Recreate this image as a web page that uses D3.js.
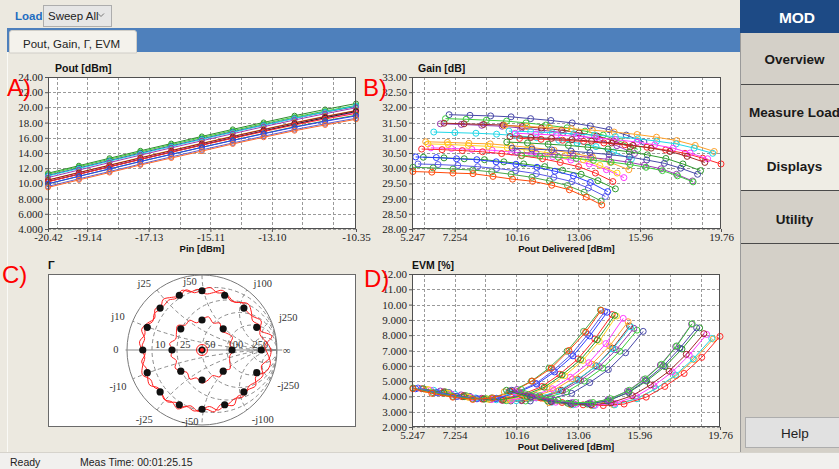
<!DOCTYPE html>
<html><head><meta charset="utf-8">
<script src="https://cdn.jsdelivr.net/npm/d3@7"></script>
<style>html,body{margin:0;padding:0;background:#ECE9E0;}svg{display:block;}</style>
</head><body>
<svg id="c" width="839" height="469"></svg>
<script>
// ================= DATA =================
// Panel A: Pout vs Pin
const pinDbm = [-20.42,-19.41,-18.41,-17.40,-16.39,-15.39,-14.38,-13.37,-12.36,-11.36,-10.35];
const pinTickLabels = [-20.42,-19.14,-17.13,-15.11,-13.10,-10.35];
const pinGrid = [-20.14,-19.14,-18.13,-17.13,-16.12,-15.11,-14.11,-13.10,-12.10,-11.09];
const poutTicks = [4,6,8,10,12,14,16,18,20,22,24];
const poutColors = ["#2e8a2e","#3ccc3c","#303080","#20d8e8","#9a3cb4","#ffa22a","#8b1a1a","#ff3cff","#202020","#ff2a2a","#2e9a2e","#2a3cff","#6060d0","#ff6a2a"];
const poutDbm = [
 [11.34,12.33,13.31,14.29,15.24,16.18,17.11,18.02,18.91,19.73,20.51],
 [11.21,12.20,13.17,14.15,15.10,16.03,16.95,17.85,18.73,19.52,20.27],
 [11.04,12.03,13.00,13.98,14.93,15.86,16.79,17.69,18.57,19.38,20.13],
 [10.98,11.96,12.93,13.90,14.86,15.80,16.73,17.65,18.55,19.39,20.20],
 [10.77,11.76,12.74,13.72,14.68,15.61,16.54,17.46,18.35,19.17,19.95],
 [10.45,11.44,12.41,13.40,14.35,15.29,16.21,17.12,18.01,18.83,19.60],
 [10.44,11.42,12.38,13.35,14.30,15.24,16.16,17.07,17.96,18.78,19.57],
 [10.25,11.24,12.21,13.19,14.14,15.07,16.00,16.90,17.78,18.59,19.34],
 [10.24,11.22,12.19,13.16,14.12,15.06,15.99,16.90,17.80,18.64,19.45],
 [10.21,11.20,12.17,13.14,14.09,15.02,15.93,16.82,17.69,18.48,19.21],
 [9.94,10.93,11.90,12.88,13.82,14.75,15.67,16.56,17.44,18.23,18.97],
 [9.95,10.94,11.90,12.88,13.82,14.74,15.65,16.53,17.39,18.17,18.88],
 [9.61,10.60,11.56,12.54,13.49,14.41,15.32,16.21,17.07,17.85,18.57],
 [9.47,10.46,11.43,12.42,13.34,14.25,15.19,16.07,16.93,17.69,18.44]
];
// Panels B & D: per load state
const poutDelTickLabels = [5.247,7.254,10.16,13.06,15.96,19.76];
const poutDelGrid = [5.803,7.254,8.705,10.16,11.61,13.06,14.51,15.96,17.41,18.86];
const gainTicks = [28,28.5,29,29.5,30,30.5,31,31.5,32,32.5,33];
const evmTicks = [2,3,4,5,6,7,8,9,10,11,12];
const loadColors = ["#4848a8","#3ccc3c","#9a3cb4","#a02828","#20d8e8","#ffa22a","#ff3cff","#ffd21e","#ff2a2a","#2e9a2e","#2a3cff","#5a5ae6","#48a848","#ff4a0a",
                    "#ffa22a","#20d8e8","#ff2a2a","#ff3cff","#a02828","#2e9a2e","#4848a8","#9a3cb4","#3ccc3c"];
const poutDelivered = [
 [6.99,7.97,8.94,9.90,10.82,11.77,12.77,13.62,14.50,15.31,16.14],
 [6.82,7.79,8.74,9.69,10.60,11.53,12.53,13.37,14.23,15.03,15.85],
 [6.58,7.56,8.52,9.48,10.40,11.34,12.34,13.19,14.07,14.87,15.70],
 [6.75,7.69,8.61,9.53,10.42,11.32,12.28,13.09,13.93,14.70,15.50],
 [6.27,7.26,8.25,9.22,10.16,11.11,12.14,13.00,13.89,14.71,15.55],
 [5.89,6.91,7.92,8.92,9.89,10.87,11.92,12.81,13.72,14.56,15.43],
 [6.13,7.10,8.06,9.01,9.93,10.87,11.86,12.71,13.58,14.38,15.20],
 [6.00,6.95,7.89,8.82,9.72,10.64,11.61,12.44,13.29,14.07,14.88],
 [5.70,6.66,7.61,8.56,9.46,10.39,11.38,12.21,13.07,13.86,14.68],
 [5.78,6.75,7.70,8.65,9.56,10.49,11.48,12.32,13.19,13.98,14.80],
 [5.42,6.39,7.34,8.29,9.20,10.13,11.12,11.96,12.83,13.62,14.44],
 [5.53,6.47,7.40,8.33,9.22,10.12,11.09,11.91,12.76,13.53,14.33],
 [5.29,6.24,7.17,8.10,8.99,9.90,10.88,11.70,12.55,13.33,14.13],
 [5.29,6.18,7.17,8.11,9.05,9.97,10.91,11.81,12.64,13.43,14.16],
 [9.60,10.65,11.70,12.73,13.72,14.74,15.82,16.73,17.68,18.55,19.44],
 [9.80,10.82,11.84,12.84,13.81,14.80,15.85,16.74,17.66,18.50,19.37],
 [10.30,11.31,12.32,13.31,14.26,15.24,16.28,17.16,18.07,18.90,19.76],
 [10.10,11.07,12.02,12.97,13.88,14.81,15.81,16.65,17.51,18.31,19.13],
 [9.85,10.83,11.80,12.76,13.68,14.63,15.63,16.48,17.36,18.17,19.00],
 [9.70,10.67,11.64,12.59,13.51,14.45,15.45,16.30,17.17,17.97,18.80],
 [9.95,10.88,11.81,12.72,13.60,14.50,15.46,16.27,17.10,17.87,18.66],
 [10.20,11.08,11.95,12.81,13.64,14.49,15.40,16.16,16.95,17.67,18.42],
 [10.40,11.26,12.12,12.96,13.77,14.60,15.49,16.24,17.01,17.72,18.45]
];
const gainDb = [
 [31.76,31.74,31.72,31.69,31.63,31.57,31.49,31.39,31.27,31.09,30.86],
 [31.63,31.61,31.58,31.55,31.49,31.42,31.33,31.22,31.09,30.88,30.62],
 [31.46,31.44,31.41,31.38,31.32,31.25,31.17,31.06,30.93,30.74,30.48],
 [31.48,31.46,31.44,31.42,31.37,31.32,31.25,31.16,31.06,30.90,30.70],
 [31.19,31.17,31.15,31.12,31.07,31.00,30.92,30.83,30.71,30.53,30.30],
 [30.87,30.85,30.82,30.80,30.74,30.68,30.59,30.49,30.37,30.19,29.95],
 [30.67,30.65,30.62,30.59,30.53,30.46,30.38,30.27,30.14,29.95,29.69],
 [30.80,30.78,30.75,30.72,30.67,30.60,30.51,30.41,30.28,30.09,29.84],
 [30.63,30.61,30.58,30.54,30.48,30.41,30.31,30.19,30.05,29.84,29.56],
 [30.36,30.34,30.31,30.28,30.21,30.14,30.05,29.93,29.80,29.59,29.32],
 [30.37,30.35,30.31,30.28,30.21,30.13,30.03,29.90,29.75,29.53,29.23],
 [30.14,30.12,30.09,30.05,29.99,29.92,29.82,29.70,29.56,29.35,29.07],
 [30.03,30.01,29.97,29.94,29.88,29.80,29.70,29.58,29.43,29.21,28.92],
 [29.89,29.87,29.84,29.82,29.73,29.64,29.57,29.44,29.29,29.05,28.79],
 [31.40,31.37,31.34,31.30,31.25,31.19,31.11,31.02,30.91,30.75,30.55],
 [31.22,31.20,31.17,31.13,31.09,31.04,30.97,30.89,30.80,30.66,30.49],
 [30.98,30.95,30.92,30.88,30.83,30.77,30.69,30.60,30.49,30.33,30.14],
 [31.15,31.12,31.09,31.05,31.00,30.94,30.86,30.77,30.66,30.50,30.31],
 [31.04,31.01,30.98,30.94,30.89,30.83,30.75,30.66,30.55,30.39,30.19],
 [30.86,30.83,30.79,30.75,30.69,30.63,30.54,30.44,30.32,30.14,29.92],
 [30.66,30.63,30.60,30.56,30.51,30.45,30.37,30.27,30.16,30.00,29.80],
 [30.52,30.49,30.45,30.41,30.35,30.29,30.20,30.10,29.98,29.80,29.58],
 [30.42,30.39,30.36,30.32,30.26,30.20,30.12,30.03,29.92,29.75,29.55]
];
const evmPct = [
 [4.25,4.00,3.80,3.70,3.70,3.85,4.20,4.90,5.75,6.85,8.25],
 [4.30,4.05,3.85,3.72,3.70,3.90,4.30,5.00,5.85,6.95,8.33],
 [4.35,4.10,3.88,3.75,3.72,3.92,4.35,5.05,5.95,7.05,8.45],
 [4.30,4.05,3.85,3.75,3.75,3.95,4.40,5.10,6.00,7.15,8.60],
 [4.40,4.15,3.90,3.78,3.72,3.90,4.35,5.05,5.95,7.10,8.55],
 [4.45,4.20,3.95,3.80,3.75,3.95,4.40,5.15,6.10,7.30,8.88],
 [4.40,4.15,3.92,3.80,3.78,4.00,4.50,5.25,6.20,7.45,9.10],
 [4.45,4.20,3.95,3.82,3.80,4.05,4.60,5.35,6.35,7.60,9.25],
 [4.50,4.22,3.98,3.82,3.82,4.10,4.65,5.45,6.45,7.75,9.35],
 [4.50,4.22,3.98,3.82,3.80,4.05,4.60,5.40,6.40,7.70,9.30],
 [4.50,4.25,4.00,3.85,3.85,4.20,4.80,5.60,6.65,7.95,9.50],
 [4.55,4.25,4.00,3.85,3.88,4.25,4.85,5.70,6.75,8.05,9.55],
 [4.55,4.25,4.00,3.85,3.90,4.30,5.00,5.85,6.95,8.25,9.65],
 [4.50,4.20,3.95,3.80,3.90,4.30,5.00,5.85,7.00,8.20,9.62],
 [4.30,3.90,3.60,3.45,3.40,3.45,3.85,4.50,5.35,6.40,7.75],
 [4.30,3.92,3.62,3.45,3.40,3.45,3.85,4.50,5.40,6.45,7.79],
 [4.25,3.90,3.60,3.45,3.40,3.50,3.95,4.65,5.50,6.55,7.92],
 [4.30,3.92,3.62,3.48,3.42,3.55,4.00,4.70,5.60,6.70,8.05],
 [4.35,3.95,3.65,3.50,3.45,3.58,4.05,4.75,5.65,6.75,8.10],
 [4.40,4.00,3.70,3.55,3.50,3.70,4.25,5.00,5.95,7.10,8.48],
 [4.40,4.00,3.70,3.55,3.52,3.72,4.28,5.05,6.00,7.15,8.48],
 [4.45,4.05,3.75,3.60,3.58,3.80,4.35,5.10,6.05,7.25,8.72],
 [4.45,4.05,3.75,3.60,3.60,3.85,4.40,5.15,6.10,7.30,8.75]
];
// Panel C: Smith chart (Γ)
const smithR = [0.2,0.5,1,2,5];
const smithX = [0.2,0.5,1,2,5];
const rLabels = ["10","25","50","100","250"];
const xLabels = ["j10","j25","j50","j100","j250"];
const loadGammaMag = [0, 0.4,0.4,0.4,0.4,0.4,0.4,0.4,0.4,
  0.79,0.79,0.79,0.79,0.79,0.79,0.79,0.79,0.79,0.79,0.79,0.79,0.79,0.79,0.79,0.79];
const loadGammaAng = [0, 0,45,90,135,180,225,270,315,
  0,22.5,45,67.5,90,112.5,135,157.5,180,202.5,225,247.5,270,292.5,315,337.5];
const traceOuter1 = [[0,0.92],[7.5,0.86],[15,0.80],[22.5,0.84],[30,0.78],[37.5,0.83],[45,0.87],[52.5,0.80],[60,0.76],[67.5,0.82],[75,0.79],[82.5,0.84],
 [90,0.80],[97.5,0.77],[105,0.83],[112.5,0.78],[120,0.81],[127.5,0.85],[135,0.78],[142.5,0.80],[150,0.76],[157.5,0.82],[165,0.79],[172.5,0.84],
 [180,0.80],[187.5,0.77],[195,0.82],[202.5,0.86],[210,0.79],[217.5,0.81],[225,0.77],[232.5,0.83],[240,0.80],[247.5,0.85],[255,0.78],[262.5,0.82],
 [270,0.79],[277.5,0.76],[285,0.83],[292.5,0.80],[300,0.85],[307.5,0.78],[315,0.82],[322.5,0.79],[330,0.84],[337.5,0.88],[345,0.82],[352.5,0.90]];
const traceOuter2 = [[3.75,0.84],[11.25,0.95],[18.75,0.82],[26.25,0.88],[33.75,0.81],[41.25,0.79],[48.75,0.83],[56.25,0.77],[63.75,0.80],[71.25,0.84],[78.75,0.78],[86.25,0.75],
 [93.75,0.81],[101.25,0.79],[108.75,0.84],[116.25,0.77],[123.75,0.80],[131.25,0.78],[138.75,0.83],[146.25,0.76],[153.75,0.81],[161.25,0.85],[168.75,0.78],[176.25,0.80],
 [183.75,0.76],[191.25,0.82],[198.75,0.78],[206.25,0.81],[213.75,0.84],[221.25,0.77],[228.75,0.80],[236.25,0.83],[243.75,0.78],[251.25,0.80],[258.75,0.76],[266.25,0.82],
 [273.75,0.79],[281.25,0.84],[288.75,0.77],[296.25,0.80],[303.75,0.78],[311.25,0.83],[318.75,0.81],[326.25,0.86],[333.75,0.80],[341.25,0.90],[348.75,0.93],[356.25,0.88]];
const traceInner = [[0,0.42],[11.25,0.38],[22.5,0.44],[33.75,0.40],[45,0.36],[56.25,0.43],[67.5,0.39],[78.75,0.45],[90,0.41],[101.25,0.37],[112.5,0.43],[123.75,0.40],
 [135,0.46],[146.25,0.41],[157.5,0.38],[168.75,0.44],[180,0.39],[191.25,0.42],[202.5,0.37],[213.75,0.43],[225,0.40],[236.25,0.36],[247.5,0.42],[258.75,0.38],
 [270,0.44],[281.25,0.41],[292.5,0.37],[303.75,0.43],[315,0.39],[326.25,0.45],[337.5,0.40],[348.75,0.38]];

// ================= LAYOUT / DRAW =================
const svg = d3.select("#c");
const UI = "Liberation Sans, Arial, sans-serif";
const SERIF = "Liberation Serif, Times New Roman, serif";
const fmt = d3.formatLocale({decimal:".",thousands:",",grouping:[3],currency:["",""],minus:"-"}).format(".4r");

svg.append("rect").attr("width",839).attr("height",469).attr("fill","#ECE9E0");
// status bar
svg.append("rect").attr("x",0).attr("y",453).attr("width",839).attr("height",16).attr("fill","#F1F0EE");
svg.append("line").attr("x1",0).attr("x2",839).attr("y1",452.5).attr("y2",452.5).attr("stroke","#D6D3CC");
svg.append("text").attr("x",10).attr("y",466).attr("font-family",UI).attr("font-size",10.5).attr("fill","#222").text("Ready");
svg.append("text").attr("x",80).attr("y",466).attr("font-family",UI).attr("font-size",10.5).attr("fill","#222").text("Meas Time: 00:01:25.15");

// top bar
svg.append("text").attr("x",15).attr("y",20).attr("font-family",UI).attr("font-weight","bold").attr("font-size",11.5).attr("fill","#1E6DC0").text("Load");
svg.append("rect").attr("x",43.5).attr("y",5.5).attr("width",68).attr("height",21).attr("fill","#E6E6E6").attr("stroke","#ADADAD");
svg.append("text").attr("x",48).attr("y",20).attr("font-family",UI).attr("font-size",11.5).attr("fill","#222").text("Sweep All");
svg.append("path").attr("d","M98,13.5 L101,16.5 L104,13.5").attr("fill","none").attr("stroke","#777");
// blue band and tab
svg.append("rect").attr("x",7).attr("y",28).attr("width",733).attr("height",24).attr("fill","#4E80BC");
svg.append("path").attr("d","M9.5,53 L9.5,33 Q9.5,30.5 12,30.5 L134,30.5 Q136.5,30.5 136.5,33 L136.5,53 Z").attr("fill","#F4F2EC").attr("stroke","#D0CEC8");
svg.append("text").attr("x",23).attr("y",48).attr("font-family",UI).attr("font-size",11.5).attr("fill","#222").text("Pout, Gain, Γ, EVM");
svg.append("line").attr("x1",7.5).attr("x2",7.5).attr("y1",52).attr("y2",452).attr("stroke","#FAFAF6");

// sidebar
svg.append("rect").attr("x",740).attr("y",0).attr("width",99).attr("height",452).attr("fill","#D4D0C8");
svg.append("rect").attr("x",740).attr("y",136).attr("width",99).attr("height",54).attr("fill","#EFEDE5");
svg.append("line").attr("x1",740.5).attr("x2",740.5).attr("y1",0).attr("y2",452).attr("stroke","#9A9A9A");
svg.append("rect").attr("x",740).attr("y",0).attr("width",99).attr("height",33).attr("fill","#1D4A85");
svg.append("text").attr("x",797).attr("y",23).attr("text-anchor","middle").attr("font-family",UI).attr("font-weight","bold").attr("font-size",15.5).attr("fill","#fff").text("MOD");
const sideButtons = ["Overview","Measure Load","Displays","Utility"];
const sideSep = [84,136,190,243];
const sideTextY = [64,117,171,224];
sideSep.forEach(y=>svg.append("line").attr("x1",741).attr("x2",839).attr("y1",y+0.5).attr("y2",y+0.5).attr("stroke","#4A4A4A").attr("stroke-width",1.2));
sideButtons.forEach((t,i)=>svg.append("text").attr("x",794.5).attr("y",sideTextY[i]).attr("text-anchor","middle").attr("font-family",UI).attr("font-weight","bold").attr("font-size",13.5).attr("fill","#1a1a1a").text(t));
svg.append("rect").attr("x",745.5).attr("y",417.5).attr("width",96).attr("height",30).attr("fill","#E1E1E1").attr("stroke","#ADADAD");
svg.append("text").attr("x",795).attr("y",438).attr("text-anchor","middle").attr("font-family",UI).attr("font-size",13.5).attr("fill","#222").text("Help");

// -------- XY panels --------
function xyPanel(o){
  const x = d3.scaleLinear().domain(o.xDomain).range([o.left,o.right]);
  const y = d3.scaleLinear().domain(o.yDomain).range([o.bottom,o.top]);
  const g = svg.append("g");
  g.append("rect").attr("x",o.left).attr("y",o.top).attr("width",o.right-o.left).attr("height",o.bottom-o.top).attr("fill","#fff");
  g.append("g").selectAll("line").data(o.xGrid).join("line")
    .attr("x1",d=>Math.round(x(d))+0.5).attr("x2",d=>Math.round(x(d))+0.5).attr("y1",o.top).attr("y2",o.bottom)
    .attr("stroke","#9a9a9a").attr("stroke-dasharray","3,2");
  g.append("g").selectAll("line").data(o.yTicks).join("line")
    .attr("y1",d=>Math.round(y(d))+0.5).attr("y2",d=>Math.round(y(d))+0.5).attr("x1",o.left).attr("x2",o.right)
    .attr("stroke","#9a9a9a").attr("stroke-dasharray","3,2");
  const line = d3.line().x(d=>x(d[0])).y(d=>y(d[1]));
  o.ys.forEach((ys,i)=>{
    const xs = o.xsFor(i);
    const pts = xs.map((v,j)=>[v,ys[j]]);
    g.append("path").attr("d",line(pts)).attr("fill","none").attr("stroke",o.colors[i]).attr("stroke-width",1);
    g.append("g").selectAll("circle").data(pts).join("circle")
      .attr("cx",d=>x(d[0])).attr("cy",d=>y(d[1])).attr("r",o.r)
      .attr("fill","none").attr("stroke",o.colors[i]).attr("stroke-width",1);
  });
  g.append("rect").attr("x",o.left+0.5).attr("y",o.top+0.5).attr("width",o.right-o.left-1).attr("height",o.bottom-o.top-1)
    .attr("fill","none").attr("stroke","#505050");
  const ax = g.append("g").attr("transform",`translate(0,${o.bottom})`)
    .call(d3.axisBottom(x).tickValues(o.xTicks).tickFormat(fmt).tickSize(3).tickSizeOuter(0).tickPadding(1));
  const ay = g.append("g").attr("transform",`translate(${o.left},0)`)
    .call(d3.axisLeft(y).tickValues(o.yTicks).tickFormat(fmt).tickSize(3).tickSizeOuter(0).tickPadding(2));
  [ax,ay].forEach(a=>{
    a.select(".domain").remove();
    a.selectAll("text").attr("font-family",SERIF).attr("font-size",11).attr("fill","#222");
    a.selectAll("line").attr("stroke","#555");
  });
  g.append("text").attr("x",o.titleX).attr("y",o.top-5).attr("font-family",UI).attr("font-weight","bold").attr("font-size",10.5).attr("fill","#111").text(o.title);
  g.append("text").attr("x",(o.left+o.right)/2).attr("y",o.bottom+23).attr("text-anchor","middle").attr("font-family",UI).attr("font-weight","bold").attr("font-size",9.5).attr("fill","#111").text(o.xTitle);
}

xyPanel({left:48,right:356,top:77,bottom:229,xDomain:[-20.42,-10.35],yDomain:[4,24],
  xTicks:pinTickLabels,xGrid:pinGrid,yTicks:poutTicks,ys:poutDbm,xsFor:()=>pinDbm,colors:poutColors,r:2.5,
  title:"Pout [dBm]",titleX:55,xTitle:"Pin [dBm]"});
xyPanel({left:412,right:721,top:77,bottom:229,xDomain:[5.247,19.76],yDomain:[28,33],
  xTicks:poutDelTickLabels,xGrid:poutDelGrid,yTicks:gainTicks,ys:gainDb,xsFor:i=>poutDelivered[i],colors:loadColors,r:3,
  title:"Gain [dB]",titleX:418,xTitle:"Pout Delivered [dBm]"});
xyPanel({left:412,right:720,top:274,bottom:427,xDomain:[5.247,19.76],yDomain:[2,12],
  xTicks:poutDelTickLabels,xGrid:poutDelGrid,yTicks:evmTicks,ys:evmPct,xsFor:i=>poutDelivered[i],colors:loadColors,r:3,
  title:"EVM [%]",titleX:412,xTitle:"Pout Delivered [dBm]"});

// -------- Smith chart --------
(function(){
  const cx0=202, cy0=350, R=75;
  const sx = d3.scaleLinear().domain([-1,1]).range([cx0-R,cx0+R]);
  const sy = d3.scaleLinear().domain([-1,1]).range([cy0+R,cy0-R]);
  const g = svg.append("g");
  g.append("rect").attr("x",48.5).attr("y",274.5).attr("width",307).attr("height",152).attr("fill","#fff").attr("stroke","#6a6a6a");
  g.append("text").attr("x",48).attr("y",269).attr("font-family",UI).attr("font-weight","bold").attr("font-size",11).attr("fill","#111").text("Γ");
  svg.append("defs").append("clipPath").attr("id","unitc").append("circle").attr("cx",cx0).attr("cy",cy0).attr("r",R);
  const grid = g.append("g").attr("clip-path","url(#unitc)");
  const k = R; // px per Γ unit
  smithR.forEach(r=>{
    grid.append("circle").attr("cx",sx(r/(1+r))).attr("cy",sy(0)).attr("r",k/(1+r))
      .attr("fill","none").attr("stroke","#8c8c8c").attr("stroke-dasharray","4,3");
  });
  smithX.forEach(xv=>{
    [1,-1].forEach(s=>{
      grid.append("circle").attr("cx",sx(1)).attr("cy",sy(s/xv)).attr("r",k/xv)
        .attr("fill","none").attr("stroke","#8c8c8c").attr("stroke-dasharray","4,3");
    });
  });
  g.append("circle").attr("cx",cx0).attr("cy",cy0).attr("r",R).attr("fill","none").attr("stroke","#7a7a7a");
  g.append("line").attr("x1",sx(-1.02)).attr("x2",sx(1.07)).attr("y1",sy(0)).attr("y2",sy(0)).attr("stroke","#8a8a8a");
  // labels
  const lbl = (t,gx,gy)=>g.append("text").attr("x",sx(gx)).attr("y",sy(gy)).attr("text-anchor","middle").attr("dominant-baseline","central")
      .attr("font-family",SERIF).attr("font-size",10.5).attr("fill","#333").text(t);
  const xLabelPos = [[-1.12,0.45],[-0.77,0.89],[-0.16,0.91],[0.81,0.89],[1.15,0.43]];
  xLabels.forEach((t,i)=>{ lbl(t,xLabelPos[i][0],xLabelPos[i][1]); lbl("-"+t,xLabelPos[i][0],-xLabelPos[i][1]-0.04); });
  smithR.forEach((r,i)=>lbl(rLabels[i],(r-1)/(r+1)+0.11,0.08));
  lbl("0",-1.15,0.01); lbl("∞",1.13,0.0);
  // red traces
  const polar = d3.line().x(d=>sx(d[1]*Math.cos(d[0]*Math.PI/180))).y(d=>sy(d[1]*Math.sin(d[0]*Math.PI/180))).curve(d3.curveCatmullRomClosed);
  [traceOuter1,traceOuter2,traceInner].forEach(t=>{
    g.append("path").attr("d",polar(t)).attr("fill","none").attr("stroke","#ff1e1e").attr("stroke-width",1);
  });
  // load points
  loadGammaMag.forEach((m,i)=>{
    const a = loadGammaAng[i]*Math.PI/180;
    g.append("circle").attr("cx",sx(m*Math.cos(a))).attr("cy",sy(m*Math.sin(a))).attr("r",3.6).attr("fill","#111");
  });
  g.append("circle").attr("cx",sx(0)).attr("cy",sy(0)).attr("r",5.5).attr("fill","none").attr("stroke","#ff1e1e");
  g.append("circle").attr("cx",sx(0)).attr("cy",sy(0)).attr("r",2).attr("fill","#ff1e1e");
})();

// red panel labels
[["A)",7,96],["B)",363,96],["C)",2,283],["D)",364,287]].forEach(d=>{
  svg.append("text").attr("x",d[1]).attr("y",d[2]).attr("font-family",UI).attr("font-size",24).attr("fill","#FF0000").text(d[0]);
});
</script>
</body></html>
